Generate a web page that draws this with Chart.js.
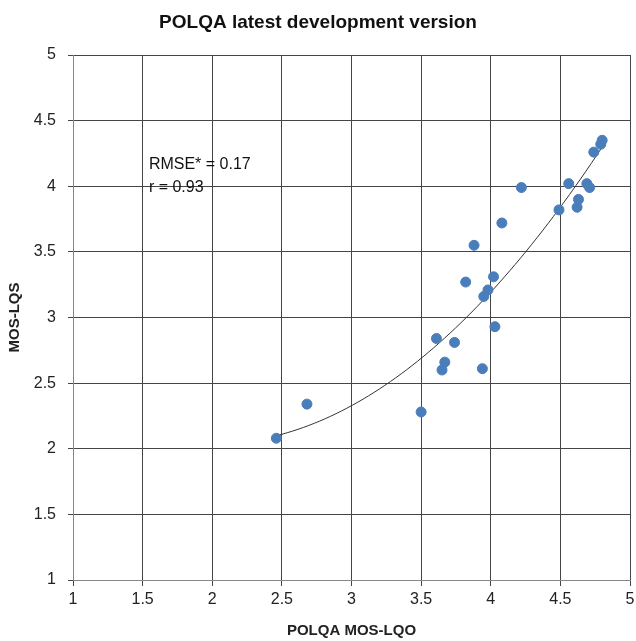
<!DOCTYPE html>
<html>
<head>
<meta charset="utf-8">
<script src="https://cdn.jsdelivr.net/npm/chart.js@4/dist/chart.umd.min.js"></script>
<style>
  html, body { margin: 0; padding: 0; background: #fff; }
  #wrap { width: 636px; height: 641px; }
</style>
</head>
<body>
<div id="wrap"><canvas id="c" width="636" height="641"></canvas></div>
<script>
// Data
const mosLQO = [2.46, 2.68, 3.50, 3.61, 3.65, 3.67, 3.74, 3.82, 3.88, 3.94, 3.95, 3.98, 4.02, 4.03, 4.08, 4.22, 4.49, 4.56, 4.62, 4.63, 4.69, 4.71, 4.74, 4.79, 4.80];
const mosLQS = [2.08, 2.34, 2.28, 2.84, 2.60, 2.66, 2.81, 3.27, 3.55, 2.61, 3.16, 3.21, 3.31, 2.93, 3.72, 3.99, 3.82, 4.02, 3.84, 3.90, 4.02, 3.99, 4.26, 4.32, 4.35];
const tickValues = [1, 1.5, 2, 2.5, 3, 3.5, 4, 4.5, 5];
const titleText = 'POLQA latest development version';
const xTitle = 'POLQA MOS-LQO';
const yTitle = 'MOS-LQS';
const statsLines = ['RMSE* = 0.17', 'r = 0.93'];

// Second-order polynomial trendline (least squares fit of the points above)
function polyFit2(xs, ys) {
  let n = xs.length, s = [0,0,0,0,0], t = [0,0,0];
  for (let i = 0; i < n; i++) {
    const x = xs[i], y = ys[i];
    let p = 1;
    for (let k = 0; k < 5; k++) { s[k] += p; if (k < 3) t[k] += p * y; p *= x; }
  }
  const M = [[s[0], s[1], s[2], t[0]], [s[1], s[2], s[3], t[1]], [s[2], s[3], s[4], t[2]]];
  for (let i = 0; i < 3; i++) {
    for (let j = i + 1; j < 3; j++) {
      const f = M[j][i] / M[i][i];
      for (let k = i; k < 4; k++) M[j][k] -= f * M[i][k];
    }
  }
  const c = [0,0,0];
  for (let i = 2; i >= 0; i--) {
    let v = M[i][3];
    for (let k = i + 1; k < 3; k++) v -= M[i][k] * c[k];
    c[i] = v / M[i][i];
  }
  return c;
}
const coef = polyFit2(mosLQO, mosLQS);
const xMin = Math.min(...mosLQO), xMax = Math.max(...mosLQO);
const trend = [];
for (let i = 0; i <= 60; i++) {
  const x = xMin + (xMax - xMin) * i / 60;
  trend.push({x, y: coef[0] + coef[1] * x + coef[2] * x * x});
}

const FONT = "'Liberation Sans', Arial, sans-serif";
const gridColor = '#454545';

const statsPlugin = {
  id: 'stats',
  afterDatasetsDraw(chart) {
    const {ctx, scales} = chart;
    ctx.save();
    ctx.font = '16px ' + FONT;
    ctx.fillStyle = '#111';
    ctx.textBaseline = 'middle';
    ctx.textAlign = 'left';
    const x0 = scales.x.getPixelForValue(1.545);
    const y0 = scales.y.getPixelForValue(4.165);
    statsLines.forEach((s, i) => ctx.fillText(s, x0, y0 + i * 23));
    ctx.restore();
  }
};

new Chart(document.getElementById('c'), {
  type: 'scatter',
  data: {
    datasets: [
      {
        label: 'points',
        data: mosLQO.map((x, i) => ({x, y: mosLQS[i]})),
        backgroundColor: '#4a7ebb',
        borderColor: '#4a7ebb',
        pointRadius: 5,
        pointHoverRadius: 5,
        order: 1
      },
      {
        label: 'trend',
        type: 'line',
        data: trend,
        borderColor: '#333',
        borderWidth: 1,
        pointRadius: 0,
        fill: false,
        tension: 0,
        order: 2
      }
    ]
  },
  options: {
    responsive: false,
    animation: false,
    layout: { padding: { left: 0, right: 0, top: 0, bottom: 0 } },
    plugins: {
      legend: { display: false },
      tooltip: { enabled: false },
      title: {
        display: true,
        text: titleText,
        color: '#111',
        font: { family: FONT, size: 19, weight: 'bold' },
        padding: { top: 11, bottom: 21.2 }
      }
    },
    scales: {
      x: {
        type: 'linear',
        min: 1, max: 5,
        afterBuildTicks(s) { s.ticks = tickValues.map(v => ({value: v})); },
        afterFit(s) { s.height = 61; s.paddingRight = 3; s.paddingLeft = 0; },
        grid: { color: gridColor, lineWidth: 1, tickLength: 6, drawTicks: true },
        border: { color: '#868686', width: 1 },
        ticks: {
          color: '#222',
          font: { family: FONT, size: 16 },
          padding: 4,
          maxRotation: 0,
          autoSkip: false,
          callback: v => String(v)
        },
        title: {
          display: true,
          text: xTitle,
          color: '#222',
          font: { family: FONT, size: 15, weight: 'bold' },
          padding: { top: 0, bottom: 1 }
        }
      },
      y: {
        type: 'linear',
        min: 1, max: 5,
        afterBuildTicks(s) { s.ticks = tickValues.map(v => ({value: v})); },
        afterFit(s) { s.width = 73; },
        grid: { color: gridColor, lineWidth: 1, tickLength: 5, drawTicks: true },
        border: { color: '#868686', width: 1 },
        ticks: {
          color: '#222',
          font: { family: FONT, size: 16 },
          padding: 12,
          autoSkip: false,
          callback: v => String(v)
        },
        title: {
          display: true,
          text: yTitle,
          color: '#222',
          font: { family: FONT, size: 15, weight: 'bold' },
          padding: { top: 6, bottom: 0 }
        }
      }
    }
  },
  plugins: [statsPlugin]
});
</script>
</body>
</html>
